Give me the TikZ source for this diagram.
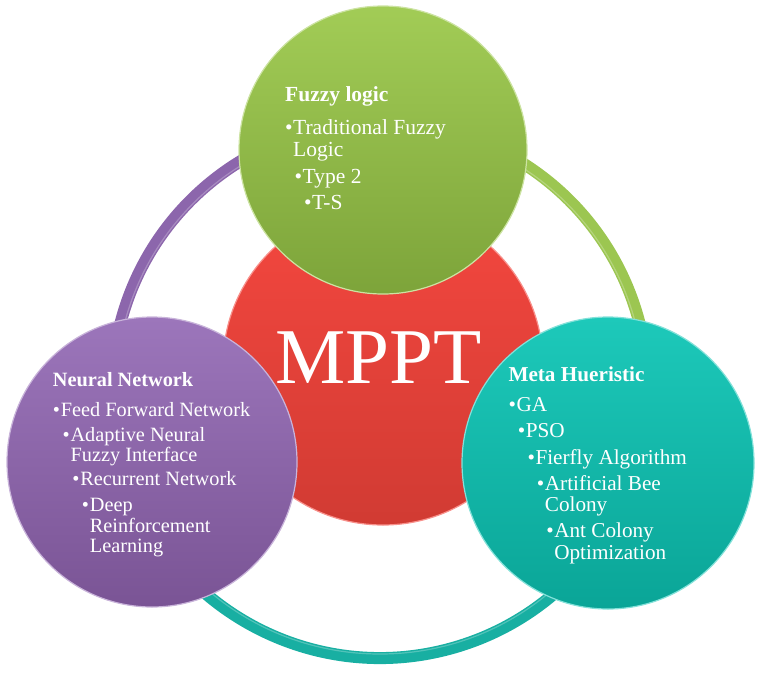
\documentclass[tikz,border=0pt]{standalone}
\usepackage{fontspec}
\setmainfont{Liberation Serif}
\definecolor{grnT}{HTML}{A2CC56}
\definecolor{grnB}{HTML}{7DA43A}
\definecolor{redT}{HTML}{F4473F}
\definecolor{redB}{HTML}{D13B33}
\definecolor{purT}{HTML}{9C76BB}
\definecolor{purB}{HTML}{7A5495}
\definecolor{tealT}{HTML}{1DC9BA}
\definecolor{tealB}{HTML}{0AA597}
\definecolor{ringP}{HTML}{8C66AC}
\definecolor{ringG}{HTML}{9CC651}
\definecolor{ringT}{HTML}{18AFA2}
\newcommand\bitem[2]{\hbox{\kern#1\makebox[8pt][l]{•}#2}}
\newcommand\citem[2]{\hbox{\kern#1\kern8pt #2}}
\tikzset{
  bubble/.style={circle, inner sep=0pt, line width=1.2pt},
  ringarc/.style={line width=12pt},
  ringshine/.style={line width=1.2pt, draw=white, opacity=0.25},
  blocktext/.style={anchor=base west, inner sep=0pt, text=white},
}
\begin{document}
\begin{tikzpicture}[x=1pt,y=1pt]
\useasboundingbox (0,0) rectangle (762,-675);
\coordinate (ringc) at (380,-390);
% ring segments
\draw[ringarc, ringP] ([shift={(90:268pt)}]ringc) arc[start angle=90, end angle=197.5, radius=268pt];
\draw[ringarc, ringT] ([shift={(197.5:268pt)}]ringc) arc[start angle=197.5, end angle=342.3, radius=268pt];
\draw[ringarc, ringG] ([shift={(342.3:268pt)}]ringc) arc[start angle=342.3, end angle=450, radius=268pt];
\draw[ringshine] ([shift={(90:264pt)}]ringc) arc[start angle=90, end angle=450, radius=264pt];
% circles
\node[bubble, minimum size=320pt, top color=redT, bottom color=redB, draw=redT!60!white] (mppt) at (383,-365) {};
\node[bubble, minimum size=288pt, top color=grnT, bottom color=grnB, draw=grnT!55!white] (fuzzy) at (383,-150) {};
\node[bubble, minimum size=290pt, top color=purT, bottom color=purB, draw=purT!55!white] (neural) at (152,-462) {};
\node[bubble, minimum size=292pt, top color=tealT, bottom color=tealB, draw=tealT!55!white] (meta) at (608,-463) {};
% texts
\node[anchor=base, inner sep=0pt, text=white, font=\fontsize{79}{79}\selectfont] (mpptlabel) at (378.5,-383) {MPPT};
\node[blocktext, font=\fontsize{21.5}{21.7}\selectfont] (fuzzytext) at (285,-101.7) {\vtop{\baselineskip=21.7pt\lineskiplimit=-20pt
  \hbox{\bfseries Fuzzy logic}
  \vskip 10.9pt
  \bitem{0pt}{Traditional Fuzzy}
  \citem{0pt}{Logic}
  \vskip 5.6pt
  \bitem{9.5pt}{Type 2}
  \vskip 4.3pt
  \bitem{19pt}{T-S}}};
\node[blocktext, font=\fontsize{20.3}{20.5}\selectfont] (neuraltext) at (52.7,-386.7) {\vtop{\baselineskip=20.5pt\lineskiplimit=-20pt
  \hbox{\bfseries Neural Network}
  \vskip 8.8pt
  \bitem{0pt}{Feed Forward Network}
  \vskip 4.5pt
  \bitem{9.7pt}{Adaptive Neural}
  \citem{9.7pt}{Fuzzy Interface}
  \vskip 3.8pt
  \bitem{19.4pt}{Recurrent Network}
  \vskip 5.2pt
  \bitem{29pt}{Deep}
  \citem{29pt}{Reinforcement}
  \citem{29pt}{Learning}}};
\node[blocktext, font=\fontsize{21.2}{21.8}\selectfont] (metatext) at (508.3,-381.7) {\vtop{\baselineskip=21.8pt\lineskiplimit=-20pt
  \hbox{\bfseries Meta Hueristic}
  \vskip 8.2pt
  \bitem{0pt}{GA}
  \vskip 4.2pt
  \bitem{9.4pt}{PSO}
  \vskip 4.5pt
  \bitem{19pt}{Fierfly Algorithm}
  \vskip 4.2pt
  \bitem{28.4pt}{Artificial Bee}
  \citem{28.4pt}{Colony}
  \vskip 3.8pt
  \bitem{37.8pt}{Ant Colony}
  \citem{37.8pt}{Optimization}}};
\end{tikzpicture}
\end{document}
